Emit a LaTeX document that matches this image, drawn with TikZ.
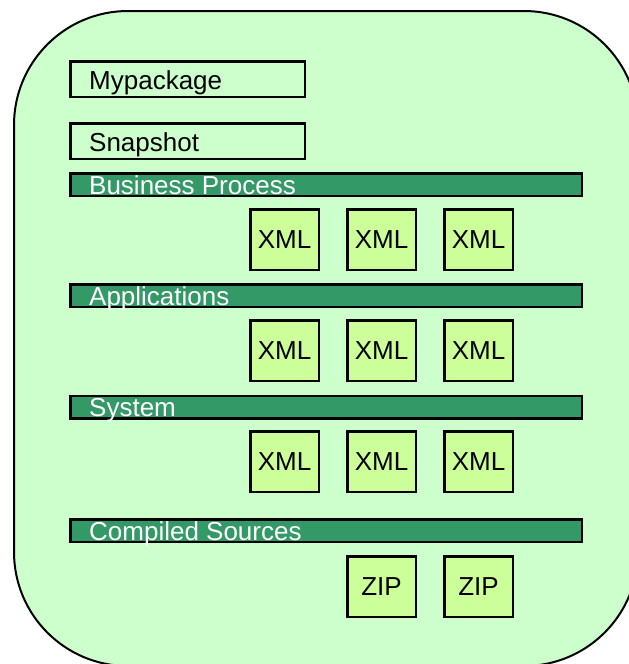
\documentclass[tikz,border=0pt]{standalone}
\usepackage{fontspec}
\setmainfont{Liberation Sans}
\definecolor{bgpkg}{HTML}{CCFFCC}
\definecolor{bardark}{HTML}{339966}
\definecolor{filebox}{HTML}{CCFF99}
\begin{document}
\begin{tikzpicture}[x=1pt,y=-1pt,
  txt/.style={font=\fontsize{26}{30}\selectfont},
  namebox/.style={draw=black, line width=2.5pt, fill=bgpkg, inner sep=0pt,
    minimum width=234.5pt, minimum height=35.5pt},
  bar/.style={draw=black, line width=2.5pt, fill=bardark, inner sep=0pt,
    minimum width=511.5pt, minimum height=22.5pt},
  bartext/.style={txt, text=white, anchor=base west, inner sep=0pt},
  nametext/.style={txt, text=black, anchor=base west, inner sep=0pt},
  filenode/.style={draw=black, line width=2.5pt, fill=filebox, inner sep=0pt,
    minimum width=68.5pt, minimum height=60.5pt, txt, text height=18.6pt, text depth=0pt}]
\useasboundingbox (0,0) rectangle (629,664);
\draw[fill=bgpkg, line width=2pt, rounded corners=114pt] (14,11) rectangle (638,666);

\node[namebox] (mypkg) at (187.5,79) {};
\node[nametext] (mypkgt) at (89,89) {Mypackage};
\node[namebox] (snap) at (187.5,141) {};
\node[nametext] (snapt) at (89,151.5) {Snapshot};

\node[bar] (bp) at (326,184.5) {};
\node[bartext] (bpt) at (89,194) {Business Process};
\node[bar] (app) at (326,295.5) {};
\node[bartext] (appt) at (89,305) {Applications};
\node[bar] (sys) at (326,407) {};
\node[bartext] (syst) at (89,416.5) {System};
\node[bar] (cs) at (326,530.5) {};
\node[bartext] (cst) at (89,540.5) {Compiled Sources};

\foreach \r/\y in {1/239.5,2/350.5,3/461.5}{
  \node[filenode] (x\r a) at (284.5,\y) {XML};
  \node[filenode] (x\r b) at (381.5,\y) {XML};
  \node[filenode] (x\r c) at (478.5,\y) {XML};
}
\node[filenode] (z1) at (381.5,586.5) {ZIP};
\node[filenode] (z2) at (478.5,586.5) {ZIP};
\end{tikzpicture}
\end{document}
